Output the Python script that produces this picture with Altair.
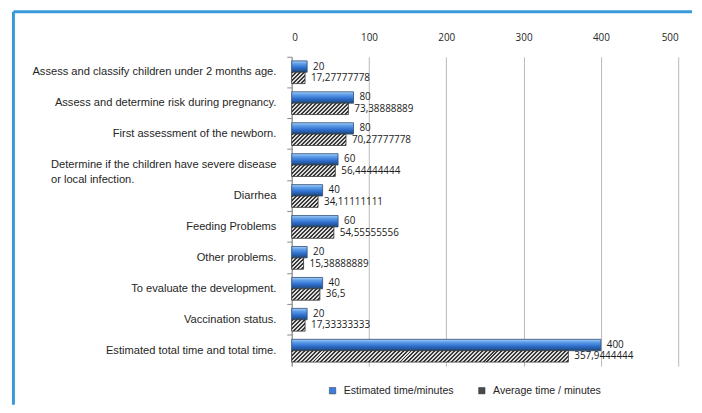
import math
import altair as alt
import pandas as pd

# ---- data ----
categories = [
    "Assess and classify children under 2 months age.",
    "Assess and determine risk during pregnancy.",
    "First assessment of the newborn.",
    "Determine if the children have severe disease\nor local infection.",
    "Diarrhea",
    "Feeding Problems",
    "Other problems.",
    "To evaluate the development.",
    "Vaccination status.",
    "Estimated total time and total time.",
]
series_names = ["Estimated time/minutes", "Average time / minutes"]
estimated = [20, 80, 80, 60, 40, 60, 20, 40, 20, 400]
average = [17.27777778, 73.38888889, 70.27777778, 56.44444444, 34.11111111,
           54.55555556, 15.38888889, 36.5, 17.33333333, 357.9444444]
x_ticks = [0, 100, 200, 300, 400, 500]

# ---- layout ----
PLOT_W, PLOT_H = 391, 313
X_MAX = 500
PX_PER_UNIT = PLOT_W / X_MAX
BAR_H = 11.5


def blue_paint():
    return {
        "gradient": "linear", "x1": 0, "y1": 0, "x2": 0, "y2": 1,
        "stops": [
            {"offset": 0.0, "color": "#a9d0f7"},
            {"offset": 0.25, "color": "#5e9ee8"},
            {"offset": 0.6, "color": "#2f6fd0"},
            {"offset": 0.88, "color": "#24528f"},
            {"offset": 1.0, "color": "#1d4a5e"},
        ],
    }


def hatch_paint(value, period=4.0, dark="#383838", light="#dedede"):
    w = max(value * PX_PER_UNIT, 1.0)
    h = BAR_H
    a = (w + h) / (w + h * h / w)
    n = (w + h) / period
    stops = []
    k = 0
    while k < n:
        t0 = min(k / n, 1.0)
        t1 = min((k + 0.5) / n, 1.0)
        t2 = min((k + 1) / n, 1.0)
        stops += [
            {"offset": t0, "color": dark},
            {"offset": t1, "color": dark},
            {"offset": t1, "color": light},
            {"offset": t2, "color": light},
        ]
        k += 1
    return {"gradient": "linear", "x1": 0, "y1": 0, "x2": a, "y2": a * h / w,
            "stops": stops}


rows = []
for c, e, a in zip(categories, estimated, average):
    rows.append({"cat": c, "series": series_names[0], "value": e,
                 "label": str(e).replace(".", ","), "paint": blue_paint(),
                 "edge": "#2b4f7a"})
    rows.append({"cat": c, "series": series_names[1], "value": a,
                 "label": str(a).replace(".", ","), "paint": hatch_paint(a),
                 "edge": "#333333"})
df = pd.DataFrame(rows)

multi_test = "indexof(datum.label, '\\n') >= 0"

y_enc = alt.Y(
    "cat:N", sort=categories, title=None,
    scale=alt.Scale(paddingInner=0, paddingOuter=0),
    axis=alt.Axis(
        bandPosition=0,
        domainColor="#8a8a8a", tickColor="#8a8a8a", tickSize=5,
        labelPadding={"condition": {"test": multi_test, "value": 239}, "value": 11},
        labelAlign={"condition": {"test": multi_test, "value": "left"}, "value": "right"},
        labelFont="Liberation Sans", labelFontSize=11.25,
        labelColor="#262626", labelLimit=400, labelLineHeight=15,
        labelExpr="split(datum.label, '\\n')", grid=False,
    ),
)
yoff_enc = alt.YOffset(
    "series:N", sort=series_names,
    scale=alt.Scale(domain=series_names, paddingInner=0, paddingOuter=0.36),
)
x_enc = alt.X(
    "value:Q", title=None,
    scale=alt.Scale(domain=[0, X_MAX], nice=False),
    axis=alt.Axis(
        orient="top", values=x_ticks, format="d", domain=False, ticks=False,
        labelPadding=14, labelFont="Open Sans", labelFontSize=10,
        labelColor="#262626", grid=True, gridColor="#b8b8b8", gridWidth=1,
    ),
)

bars = alt.Chart(df).mark_bar(strokeWidth=0.8).encode(
    x=x_enc, y=y_enc, yOffset=yoff_enc,
    fill=alt.Fill("paint:N", scale=None),
    stroke=alt.Stroke("edge:N", scale=None),
)

labels = alt.Chart(df).mark_text(
    align="left", baseline="middle", dx=6, font="Open Sans", fontSize=10,
    color="#1a1a1a",
).encode(x=x_enc, y=y_enc, yOffset=yoff_enc, text="label:N")

legend_layer = alt.Chart(df).transform_filter("false").mark_bar().encode(
    x=x_enc, y=y_enc, yOffset=yoff_enc,
    color=alt.Color(
        "series:N",
        scale=alt.Scale(domain=series_names, range=["#3b7ddd", "#4a4a4a"]),
        legend=alt.Legend(
            title=None, orient="none", direction="horizontal",
            legendX=36, legendY=332, symbolType="square", symbolSize=42,
            symbolStrokeColor="#333333", symbolStrokeWidth=0.5,
            labelFont="Liberation Sans", labelFontSize=10.7, labelColor="#262626",
            labelOffset=6, columnPadding=23, padding=0, labelLimit=300,
        ),
    ),
)

frame_df = pd.DataFrame({"k": [0]})
frame_left = alt.Chart(frame_df).mark_rule(color="#3a9ad9", strokeWidth=3).encode(
    x=alt.value(-281.5), y=alt.value(-45.5), y2=alt.value(352)
)
frame_top = alt.Chart(frame_df).mark_rule(color="#3a9ad9", strokeWidth=3).encode(
    y=alt.value(-45.5), x=alt.value(-281.5), x2=alt.value(405)
)

chart = alt.layer(frame_left, frame_top, bars, labels, legend_layer).properties(
    width=PLOT_W, height=PLOT_H,
    padding={"left": 4, "top": 0, "right": 0, "bottom": 0},
    background="white",
).configure_view(stroke=None)

chart.save("out.html", embed_options={"renderer": "svg", "actions": False})
